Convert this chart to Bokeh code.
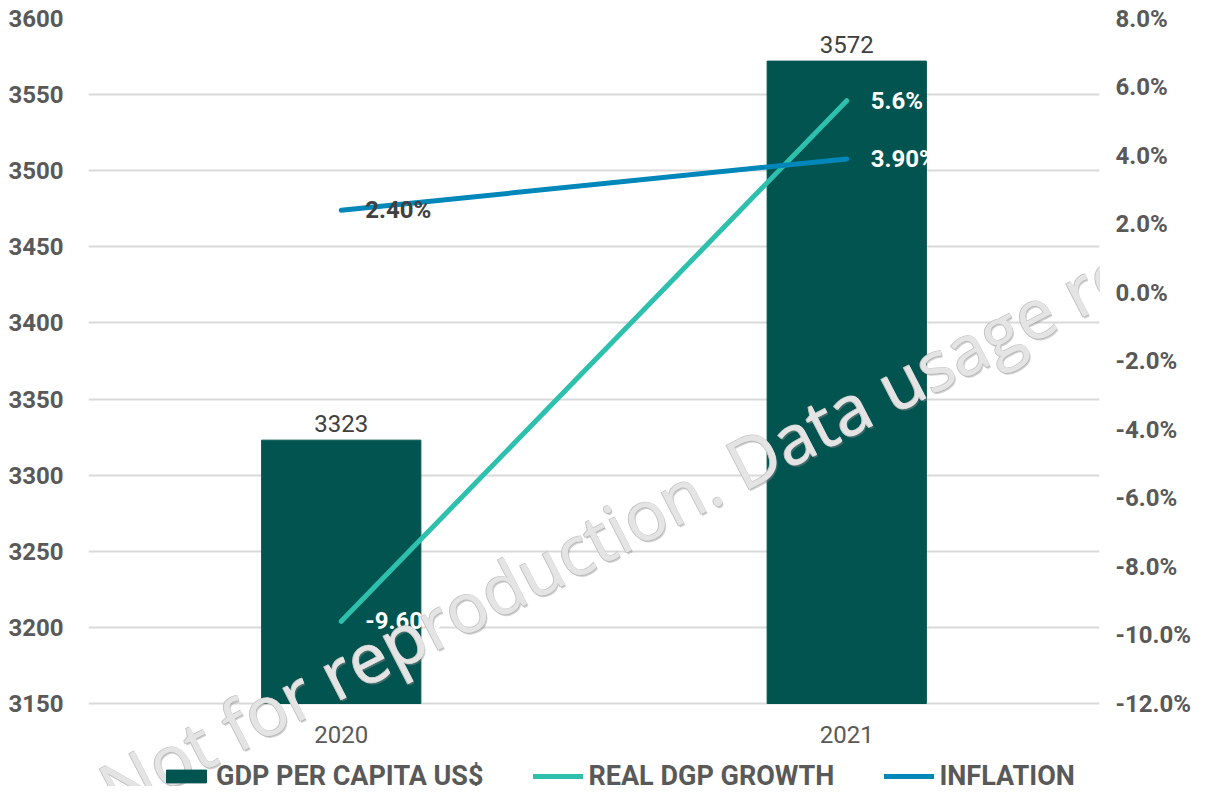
from bokeh.plotting import figure
from bokeh.models import (Range1d, FactorRange, LinearAxis, FixedTicker, PrintfTickFormatter,
                          ColumnDataSource, Legend, LegendItem, Label)
from bokeh.core.properties import value
from bokeh.embed import file_html
from bokeh.resources import INLINE

# ---- data ----
years = ["2020", "2021"]
gdp_per_capita = [3323, 3572]
real_gdp_growth = [-9.6, 5.6]
inflation = [2.4, 3.9]
growth_labels = ["-9.60%", "5.6%"]
inflation_labels = ["2.40%", "3.90%"]
left_ticks = [3150, 3200, 3250, 3300, 3350, 3400, 3450, 3500, 3550, 3600]
right_ticks = [-12, -10, -8, -6, -4, -2, 0, 2, 4, 6, 8]
watermark_text = "Not for reproduction. Data usage requi"

BAR = "#01544F"
TEAL = "#2DC1AD"
BLUE = "#0087BA"
AXIS_TXT = "#595959"
DARK_TXT = "#404040"
FONT = "Roboto"

W, H = 1193, 786
TOP, AXIS_BOTTOM_PX = 18, 703          # pixel rows of the top and bottom tick
L_MIN, L_MAX = left_ticks[0], left_ticks[-1]
R_MIN, R_MAX = right_ticks[0], right_ticks[-1]
px_per_unit_l = (AXIS_BOTTOM_PX - TOP) / (L_MAX - L_MIN)
px_per_unit_r = (AXIS_BOTTOM_PX - TOP) / (R_MAX - R_MIN)
extra = H - AXIS_BOTTOM_PX             # frame extends below the lowest tick for labels/legend
l_start = L_MIN - extra / px_per_unit_l
r_start = R_MIN - extra / px_per_unit_r

p = figure(width=W, height=H, x_range=FactorRange(*years, range_padding=0),
           y_range=Range1d(l_start, L_MAX), output_backend="svg", toolbar_location=None,
           min_border_left=88, min_border_right=80, min_border_top=TOP, min_border_bottom=0)
p.extra_y_ranges = {"pct": Range1d(r_start, R_MAX)}
p.outline_line_color = None
p.background_fill_color = "white"
p.border_fill_color = "white"
p.xaxis.visible = False

# left axis
ly = p.yaxis[0]
ly.ticker = FixedTicker(ticks=left_ticks)
ly.axis_line_color = None
ly.major_tick_line_color = None
ly.minor_tick_line_color = None
ly.major_tick_out = 0
ly.major_tick_in = 0
ly.minor_tick_out = 0
ly.major_label_text_font = FONT
ly.major_label_text_font_size = "24px"
ly.major_label_text_font_style = "bold"
ly.major_label_text_color = AXIS_TXT
ly.major_label_standoff = 25

rax = LinearAxis(y_range_name="pct", ticker=FixedTicker(ticks=right_ticks),
                 formatter=PrintfTickFormatter(format="%.1f%%"))
rax.axis_line_color = None
rax.major_tick_line_color = None
rax.minor_tick_line_color = None
rax.major_tick_out = 0
rax.major_tick_in = 0
rax.minor_tick_out = 0
rax.major_label_text_font = FONT
rax.major_label_text_font_size = "24px"
rax.major_label_text_font_style = "bold"
rax.major_label_text_color = AXIS_TXT
rax.major_label_standoff = 16
p.add_layout(rax, "right")

p.xgrid.grid_line_color = None
p.ygrid.grid_line_color = "#d9d9d9"
p.ygrid.grid_line_width = 2

# bars
bar_src = ColumnDataSource(dict(x=years, top=gdp_per_capita, lbl=[str(v) for v in gdp_per_capita]))
bars = p.vbar(x="x", top="top", bottom=L_MIN, width=0.315, source=bar_src, color=BAR)
p.text(x="x", y="top", text="lbl", source=bar_src, text_align="center", text_baseline="alphabetic",
       y_offset=-17, text_font=value(FONT), text_font_size="24px", text_color=DARK_TXT)

# category labels under the lowest gridline
cat_src = ColumnDataSource(dict(x=years, y=[L_MIN] * len(years), lbl=years))
p.text(x="x", y="y", text="lbl", source=cat_src, text_align="center", text_baseline="middle",
       y_offset=31, text_font=value(FONT), text_font_size="24px", text_color=AXIS_TXT)

# lines
growth_src = ColumnDataSource(dict(x=years, y=real_gdp_growth, lbl=growth_labels, c=["white", "white"]))
infl_src = ColumnDataSource(dict(x=years, y=inflation, lbl=inflation_labels, c=[DARK_TXT, "white"]))
gline = p.line(x="x", y="y", source=growth_src, y_range_name="pct", line_color=TEAL,
               line_width=5, line_cap="round")
iline = p.line(x="x", y="y", source=infl_src, y_range_name="pct", line_color=BLUE,
               line_width=5, line_cap="round")
for src in [growth_src, infl_src]:
    p.text(x="x", y="y", text="lbl", source=src, y_range_name="pct", x_offset=24,
           text_align="left", text_baseline="middle", text_font=value(FONT),
           text_font_size="24px", text_font_style="bold", text_color="c")

legend = Legend(items=[LegendItem(label="GDP PER CAPITA US$", renderers=[bars]),
                       LegendItem(label="REAL DGP GROWTH", renderers=[gline]),
                       LegendItem(label="INFLATION", renderers=[iline])],
                orientation="horizontal", location=(73, -6))
legend.label_text_font = FONT
legend.label_text_font_size = "27px"
legend.label_text_font_style = "bold"
legend.label_text_color = AXIS_TXT
legend.glyph_width = 50
legend.glyph_height = 16
legend.label_standoff = 5
legend.spacing = 50
legend.padding = 0
legend.margin = 0
legend.border_line_color = None
legend.background_fill_alpha = 0
p.add_layout(legend, "center")

# watermark (data coordinates: x in category units 0..2, y on left scale)
wx, wy = 0.03, 3092.0
WM_FONT = "Open Sans"
WM_SIZE = "69px"
shadow_offsets = [(2.0, -2.0), (1.0, -1.0)]
for (ox, oy) in shadow_offsets:
    p.add_layout(Label(x=wx + ox / 506.0, y=wy + oy / px_per_unit_l, text=watermark_text,
                       angle=27.3, angle_units="deg", text_font=WM_FONT, text_font_size=WM_SIZE,
                       text_color="#8c8c8c", text_alpha=0.4, text_align="left",
                       text_baseline="alphabetic"))
# slightly widened fill layer to imitate a semi-bold face
for ox in [0.0, 0.8]:
    p.add_layout(Label(x=wx + ox / 506.0, y=wy, text=watermark_text, angle=27.3, angle_units="deg",
                       text_font=WM_FONT, text_font_size=WM_SIZE, text_color="#e4e4e4",
                       text_outline_color="#c4c4c4" if ox == 0.0 else None,
                       text_align="left", text_baseline="alphabetic"))

open("out.html", "w").write(file_html(p, INLINE))
